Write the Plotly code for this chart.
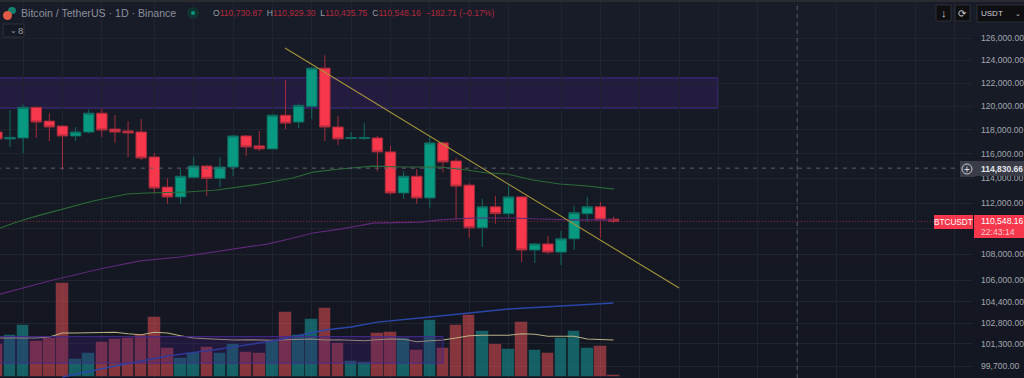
import math
import plotly.graph_objects as go

days = list(range(-1, 47))
opens = [117830,117250,117330,119920,118750,118330,117500,117830,119420,118080,117920,117830,115750,113290,112500,114080,115000,114000,114920,117500,116670,116420,119250,118670,120000,123320,118250,117290,117290,117330,116170,112820,114170,112420,116920,115420,113450,110050,111710,111160,112500,108320,108790,108160,109190,111160,111710,110730.87]
highs = [118000,119670,120170,120000,119420,118400,118250,119750,119830,119250,118750,118920,116080,114000,114750,115750,115090,115750,117580,117580,117920,119300,122270,120260,123410,124460,119170,117830,118580,117500,116670,114580,114750,117420,117000,115670,113600,112340,112580,113370,112580,108870,109420,109810,111790,112500,112100,110929.30]
lows = [117170,116580,116080,117330,117080,114670,117080,117700,117420,116920,115750,115500,112740,111950,111950,114000,112580,113290,114170,115830,116250,116400,118080,118170,118920,117080,116750,117170,117170,114580,112660,112340,111950,111630,114500,110680,109260,108550,110370,110840,107400,107320,108000,107170,108320,110520,109260,110435.75]
closes = [117250,117380,119920,118670,118250,117500,117830,119420,118000,117830,117750,115670,113210,112500,114170,115000,114000,114920,117500,116580,116420,119250,118580,120090,123320,118250,117250,117360,117360,116170,112820,114170,112420,116920,115340,113370,110050,111710,111160,112500,108320,108790,108160,109190,111240,111710,110680,110548.16]
volumes = [3300,4200,5200,3600,3900,9400,1800,2400,3500,3800,3900,4200,6000,2900,1900,2400,3000,2400,3300,2500,2400,3600,6500,4200,5800,6900,3400,1600,1500,4400,4500,3900,2700,5700,2900,5200,6200,4600,3300,2800,5500,2700,2400,3900,4600,2900,3100,200]
volume_ma = [3900,3900,3900,3900,4000,4400,4400,4430,4470,4470,4330,4230,4470,4400,4130,3900,3830,3770,3700,3730,3700,3670,3730,3770,3800,3700,3730,3670,3630,3730,3800,3770,3530,3630,3700,3900,4130,4170,4170,4170,4330,4270,4070,4070,4070,3800,3770,3700]

ma50_x = [-0.76,0.76,2.29,4.04,6.33,8.92,10.44,13.49,15.78,19.06,21.57,23.09,25.15,27.67,29.95,32.77,34.83,36.36,37.88,39.86,41.92,43.98,46.04]
ma50_y = [110030,110580,111050,111530,112170,112730,112810,112890,113050,113540,114030,114510,114760,115000,114920,114920,114680,114430,114350,113870,113540,113380,113130]
ma100_x = [-0.76,3.28,6.86,9.9,12.96,15.5,17.5,19.6,21.6,23.1,25.15,27.7,31.25,32.8,35.3,38.3,40.4,42.9,46]
ma100_y = [104970,106030,106860,107480,107780,108160,108470,108780,109250,109640,109950,110420,110500,110670,110820,110820,110740,110670,110670]
ma200_x = [4,8,12,16,20,24,26,28,32,35,38,42,46]
ma200_y = [98940,99720,100430,100940,101510,102310,102540,102890,103260,103560,103850,104080,104300]
trend_x = [20.96,51]
trend_y = [125100,105420]

price_ticks = [126000,124000,122000,120000,118000,116000,114000,112000,110000,108000,106000,104400,102800,101300,99700]
hidden_ticks = [110000]
time_grid = [1,4,7,11,14,17,20,23,26,29,32,35,38,42,45,48,51,54,57,60,63,66,69,72]
zone_prices = [119860,122460]
zone_days = [-1,53.96]
lower_zone_prices = [99930,101830]
lower_zone_days = [-1,33.0]
last_price = 110548.16
cross_price = 114830.66
cross_day = 60

BG = "#151924"
GRID = "#20242e"
GREEN = "#089981"
RED = "#f7374b"
FONT = "Liberation Sans"
W, H = 1024, 378
px = lambda v: v / W
py = lambda v: 1 - v / H

fig = go.Figure()
bar_cols = ["rgba(20,150,150,0.58)" if c >= o else "rgba(242,80,88,0.52)" for o, c in zip(opens, closes)]
fig.add_trace(go.Bar(x=days, y=volumes, marker=dict(color=bar_cols, line=dict(color="rgba(21,25,36,0.55)", width=1)),
                     width=0.96, yaxis="y", hoverinfo="skip"))
fig.add_trace(go.Scatter(x=days, y=volume_ma, mode="lines", line=dict(color="#b9b184", width=1.1), yaxis="y", hoverinfo="skip"))
fig.add_trace(go.Candlestick(x=days, open=opens, high=highs, low=lows, close=closes, yaxis="y2",
                             increasing=dict(fillcolor=GREEN, line=dict(color="#0f6a60", width=1)),
                             decreasing=dict(fillcolor=RED, line=dict(color="#a42c3c", width=1)),
                             whiskerwidth=0, hoverinfo="skip"))
for xs, ys, col, w in [(ma50_x, ma50_y, "#2b6b38", 1.1), (ma100_x, ma100_y, "#5e2878", 1.2),
                       (ma200_x, ma200_y, "#2a47a8", 1.5), (trend_x, trend_y, "#a49338", 1.1)]:
    fig.add_trace(go.Scatter(x=xs, y=ys, mode="lines", line=dict(color=col, width=w), yaxis="y2", hoverinfo="skip"))

bg_bands = ["#181c28", "#171b27", "#171b26", "#161a25", "#161a24", "#151923", "#151823", "#141822", "#141721", "#131721"]
shapes = [dict(type="rect", xref="paper", yref="paper", x0=0, x1=1, y0=1 - (i + 1) / 10, y1=1 - i / 10,
               fillcolor=c, line_width=0, layer="below") for i, c in enumerate(bg_bands)]
shapes += [
    dict(type="rect", xref="x", yref="y2", x0=zone_days[0], x1=zone_days[1], y0=zone_prices[0], y1=zone_prices[1],
         fillcolor="rgba(64,30,120,0.32)", line=dict(color="#452a90", width=1), layer="below"),
    dict(type="rect", xref="x", yref="y2", x0=lower_zone_days[0], x1=lower_zone_days[1], y0=lower_zone_prices[0], y1=lower_zone_prices[1],
         fillcolor="rgba(64,30,120,0.30)", line=dict(color="#452a90", width=1), layer="above"),
    dict(type="line", xref="x", yref="y2", x0=-1, x1=70.5, y0=last_price, y1=last_price, line=dict(color="#932a38", width=1, dash="1px,2px"), layer="below"),
    dict(type="line", xref="x", yref="y2", x0=-1, x1=72.4, y0=cross_price, y1=cross_price, line=dict(color="#5e616c", width=1, dash="4px,5px"), layer="above"),
    dict(type="line", xref="x", yref="paper", x0=cross_day, x1=cross_day, y0=0, y1=1, line=dict(color="#555862", width=1, dash="4px,4px"), layer="above"),
    # header strip, value tags, toolbar buttons
    dict(type="rect", xref="paper", yref="paper", x0=0, x1=1, y0=py(2), y1=1, fillcolor="#2a2b30", line_width=0),
    dict(type="rect", xref="paper", yref="paper", x0=px(960), x1=px(975), y0=py(177), y1=py(161), fillcolor="#3a3d48", line_width=0),
    dict(type="rect", xref="paper", yref="paper", x0=px(975), x1=1, y0=py(176), y1=py(161), fillcolor="#3a3d48", line_width=0),
    dict(type="circle", xref="paper", yref="paper", x0=px(962), x1=px(972), y0=py(174), y1=py(164), fillcolor="rgba(0,0,0,0)", line=dict(color="#c9cbd2", width=1)),
    dict(type="rect", xref="paper", yref="paper", x0=px(974), x1=1, y0=py(238), y1=py(215), fillcolor=RED, line_width=0),
    dict(type="rect", xref="paper", yref="paper", x0=px(934), x1=px(973), y0=py(229), y1=py(215), fillcolor=RED, line_width=0),
    dict(type="rect", xref="paper", yref="paper", x0=px(936), x1=px(951), y0=py(21), y1=py(5), fillcolor="#0e0e10", line=dict(color="#2c2e36", width=1)),
    dict(type="rect", xref="paper", yref="paper", x0=px(955), x1=px(970), y0=py(21), y1=py(5), fillcolor="#0e0e10", line=dict(color="#2c2e36", width=1)),
    dict(type="rect", xref="paper", yref="paper", x0=px(977), x1=1.01, y0=py(22), y1=py(5), fillcolor="#0e0e10", line=dict(color="#2c2e36", width=1)),
    dict(type="rect", xref="paper", yref="paper", x0=px(3), x1=px(24), y0=py(37), y1=py(24), fillcolor="#151924", line=dict(color="#2e313b", width=1)),
    # symbol icons and status dot
    dict(type="circle", xref="paper", yref="paper", x0=px(8), x1=px(16), y0=py(14), y1=py(7), fillcolor="#10806f", line_width=0),
    dict(type="circle", xref="paper", yref="paper", x0=px(3), x1=px(12), y0=py(20), y1=py(11), fillcolor="#e05a45", line_width=0),
    dict(type="circle", xref="paper", yref="paper", x0=px(187), x1=px(199), y0=py(19), y1=py(7), fillcolor="#10332f", line_width=0),
    dict(type="circle", xref="paper", yref="paper", x0=px(191), x1=px(195), y0=py(15), y1=py(11), fillcolor="#089981", line_width=0),
]

RV = "#b3283c"
LB = "#9a9da6"
def ann(x, y, text, size=11, color="#b2b5be", anchor="left", **kw):
    return dict(x=px(x), y=py(y), xref="paper", yref="paper", text=text, showarrow=False, xanchor=anchor, yanchor="middle",
                font=dict(family=FONT, size=size, color=color), **kw)
ohlc = "".join(f"<span style='color:{LB}'>{k}</span><span style='color:{RV}'>{v}</span>  " for k, v in
               [("O", "110,730.87"), ("H", "110,929.30"), ("L", "110,435.75"), ("C", "110,548.16")])
annotations = [
    ann(19, 13.5, "Bitcoin / TetherUS · 1D · Binance", 10.6, "#8d909b"),
    ann(211, 13.5, ohlc + f"<span style='color:{RV}'>−182.71 (−0.17%)</span>", 8.6, RV),
    ann(8, 30.5, "⌄", 8, "#9a9da6"),
    ann(16, 30.5, "8", 9.5, "#9a9da6"),
    ann(943.5, 13, "↓", 11, "#c9cbd2", "center"),
    ann(962.5, 13, "⟳", 10, "#c9cbd2", "center"),
    ann(979, 13.5, "USDT", 8, "#d1d3d9"),
    ann(1018, 14, "⌄", 7, "#c9cbd2", "center"),
    ann(967, 169, "+", 10, "#d9dbe0", "center"),
    ann(979, 168.5, "<b>114,830.66</b>", 8.5, "#e4e5ea"),
    ann(953.5, 222, "BTCUSDT", 8.2, "#ffffff", "center"),
    ann(979, 221.5, "110,548.16", 8.6, "#ffffff"),
    ann(979, 231.5, "22:43:14", 8.6, "#ffc7cc"),
]

fig.update_layout(
    width=W, height=H, margin=dict(l=0, r=0, t=0, b=0, autoexpand=False),
    paper_bgcolor=BG, plot_bgcolor="rgba(0,0,0,0)", showlegend=False, boxgap=0.2, boxgroupgap=0,
    shapes=shapes, annotations=annotations, bargap=0,
    xaxis=dict(domain=[0, 973 / W], range=[-0.762, 73.4], tickmode="array", tickvals=time_grid, ticks="", showticklabels=False,
               showgrid=True, gridcolor=GRID, gridwidth=1, zeroline=False, rangeslider=dict(visible=False), showline=False),
    yaxis=dict(domain=[0, 1], range=[-100, 37700], visible=False, showgrid=False, zeroline=False),
    yaxis2=dict(overlaying="y", side="right", anchor="x", type="log",
                range=[math.log10(98870), math.log10(129462)], tickmode="array", tickvals=price_ticks,
                ticktext=["" if t in hidden_ticks else f"{t:,.2f}" for t in price_ticks], ticks="", ticklen=0, ticklabelstandoff=7,
                tickfont=dict(family=FONT, size=8.6, color="#a3a6af"), showgrid=True, gridcolor=GRID, gridwidth=1,
                zeroline=False, showline=False, automargin=False),
)
fig.write_html("out.html", config=dict(displayModeBar=False),
               post_script="document.body.style.margin='0';document.body.style.overflow='hidden';")
